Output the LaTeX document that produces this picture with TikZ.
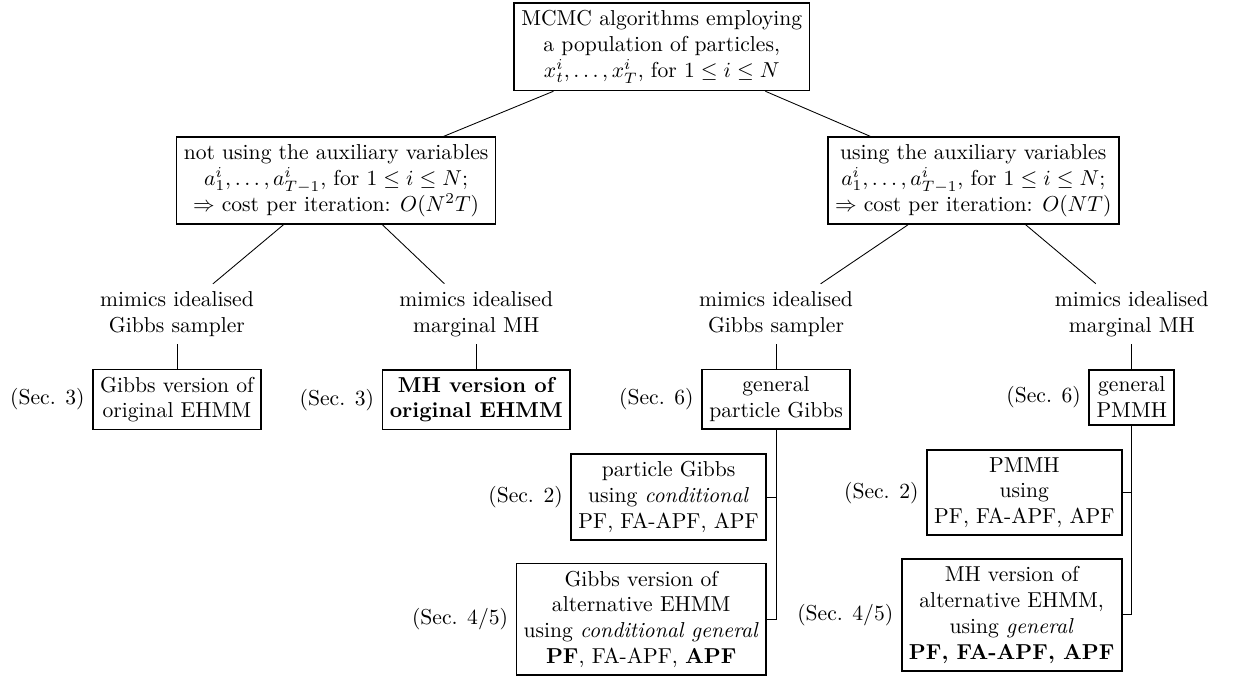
\documentclass[tikz,border=0pt]{standalone}
\usepackage{amsmath,amssymb}
\usetikzlibrary{calc,positioning}
\tikzset{box/.style={draw,thick,align=center},
mim/.style={align=center}}
\begin{document}
\begin{tikzpicture}
\useasboundingbox (0,0) rectangle (20.1,-10.99);
\node[box] (mcmc) at (10.77,-0.76) {MCMC algorithms employing\\ a population of particles,\\ $x_t^i,\ldots,x_T^i$, for $1\le i\le N$};
\node[box] (noaux) at (5.47,-2.94) {not using the auxiliary variables\\ $a_1^i,\ldots,a_{T-1}^i$, for $1\le i\le N$;\\ $\Rightarrow$ cost per iteration: $O(N^2T)$};
\node[box] (aux) at (15.84,-2.94) {using the auxiliary variables\\ $a_1^i,\ldots,a_{T-1}^i$, for $1\le i\le N$;\\ $\Rightarrow$ cost per iteration: $O(NT)$};

\node[mim] (gibbsA) at (2.88,-5.11) {mimics idealised\\ Gibbs sampler};
\node[mim] (mhA) at (7.75,-5.11) {mimics idealised\\ marginal MH};
\node[mim] (gibbsB) at (12.63,-5.11) {mimics idealised\\ Gibbs sampler};
\node[mim] (mhB) at (18.42,-5.11) {mimics idealised\\ marginal MH};

\node[box,below=0.4cm of gibbsA,label={left:(Sec. 3)}] (ehmmG) {Gibbs version of\\ original EHMM};
\node[box,below=0.4cm of mhA,label={left:(Sec. 3)},font=\bfseries] (ehmmM) {MH version of\\ original EHMM};
\node[box,below=0.4cm of gibbsB,label={left:(Sec. 6)}] (pg) {general\\ particle Gibbs};
\node[box,below=0.4cm of mhB,label={left:(Sec. 6)}] (pmmh) {general\\ PMMH};

\node[box,below left=0.38cm and 0.15cm of pg.south,label={left:(Sec. 2)}] (pgcond) {particle Gibbs\\ using \emph{conditional}\\ PF, FA-APF, APF};
\node[box,below left=0.36cm and 0cm of pgcond.south east,label={left:(Sec. 4/5)}] (pgalt) {Gibbs version of\\ alternative EHMM\\ using \emph{conditional general}\\ \textbf{PF}, FA-APF, \textbf{APF}};
\node[box,below left=0.38cm and 0.15cm of pmmh.south,label={left:(Sec. 2)}] (pmmhpf) {PMMH\\ using\\ PF, FA-APF, APF};
\node[box,below left=0.36cm and 0cm of pmmhpf.south east,label={left:(Sec. 4/5)}] (pmmhalt) {MH version of\\ alternative EHMM,\\ using \emph{general}\\ \textbf{PF, FA-APF, APF}};

\draw (mcmc) -- (noaux);
\draw (mcmc) -- (aux);
\foreach \a/\b in {noaux/gibbsA,noaux/mhA,aux/gibbsB,aux/mhB,gibbsA/ehmmG,mhA/ehmmM,gibbsB/pg,mhB/pmmh}
 \draw (\a) -- (\b);
\foreach \p/\c in {pg/pgcond,pg/pgalt,pmmh/pmmhpf,pmmh/pmmhalt}
 \draw (\p) |- (\c.east);
\end{tikzpicture}
\end{document}
